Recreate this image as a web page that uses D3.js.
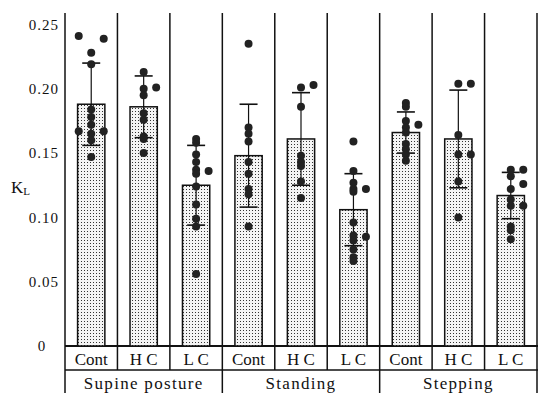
<!DOCTYPE html>
<html lang="en">
<head>
  <meta charset="utf-8">
  <title>K_L by posture</title>
  <script src="https://d3js.org/d3.v7.min.js"></script>
  <style>
    body { margin: 0; background: #fff; }
    svg { display: block; }
    text { font-family: "Liberation Serif", "DejaVu Serif", serif; fill: #111; }
  </style>
</head>
<body>
  <svg id="chart" width="538" height="393"></svg>

  <script>
    // groups and conditions
    const groups = ["Supine posture", "Standing", "Stepping"];
    const conditions = ["Cont", "H C", "L C"];

    // bar means and SD, [group][condition]
    const means = [
      [0.188, 0.186, 0.125],
      [0.148, 0.161, 0.106],
      [0.166, 0.161, 0.117]
    ];
    const sds = [
      [0.032, 0.024, 0.031],
      [0.040, 0.036, 0.028],
      [0.016, 0.038, 0.018]
    ];

    // individual points: [value, side] (side -1 left, 0 centre, 1 right)
    const supinePoints = [
      [[0.241, -1], [0.239, 1], [0.228, 0], [0.219, 0], [0.184, 0], [0.178, 0], [0.172, 0],
       [0.167, -1], [0.167, 1], [0.165, 0], [0.160, 0], [0.147, 0]],
      [[0.213, 0], [0.201, 1], [0.200, 0], [0.195, 0], [0.181, 0], [0.176, 0], [0.163, 0],
       [0.161, 0], [0.150, 0]],
      [[0.161, 0], [0.158, 0], [0.149, 0], [0.143, 0], [0.137, 0], [0.134, 0], [0.136, 1],
       [0.124, 0], [0.110, 0], [0.099, 0], [0.093, 0], [0.056, 0]]
    ];
    const standingPoints = [
      [[0.235, 0], [0.170, 0], [0.165, 0], [0.159, 0], [0.143, 0], [0.134, 0], [0.122, 0],
       [0.118, 0], [0.093, 0]],
      [[0.201, 0], [0.203, 1], [0.186, 0], [0.148, 0], [0.143, 0], [0.140, 0], [0.128, 0],
       [0.115, 0]],
      [[0.159, 0], [0.136, 0], [0.127, 0], [0.122, 0], [0.122, 1], [0.120, 0], [0.096, 0],
       [0.086, 0], [0.085, 1], [0.082, 0], [0.075, 0], [0.069, 0], [0.066, 0]]
    ];
    const steppingPoints = [
      [[0.189, 0], [0.186, 0], [0.175, 0], [0.172, 1], [0.170, 0], [0.166, 0], [0.157, 0],
       [0.153, 0], [0.149, 0], [0.144, 0]],
      [[0.204, 0], [0.204, 1], [0.164, 0], [0.149, 0], [0.149, 1], [0.128, 0], [0.100, 0]],
      [[0.137, 0], [0.137, 1], [0.132, 0], [0.126, 1], [0.122, 0], [0.114, 0], [0.109, 0],
       [0.109, 1], [0.093, 0], [0.090, 0], [0.083, 0]]
    ];
    const points = [supinePoints, standingPoints, steppingPoints];

    const yTicks = [0, 0.05, 0.10, 0.15, 0.20, 0.25];

    const svg = d3.select("#chart");
    const plotLeft = 65, plotRight = 537, plotTop = 13;
    const row1 = 370, plotBottom = 393;

    const x0 = d3.scaleBand().domain(groups).range([plotLeft, plotRight]);
    const x1 = d3.scaleBand().domain(conditions).range([0, x0.bandwidth()]);
    const y = d3.scaleLinear().domain([0, 0.25]).range([346, 24.5]);

    // stipple pattern for bars
    const pat = svg.append("defs").append("pattern")
        .attr("id", "stipple")
        .attr("patternUnits", "userSpaceOnUse")
        .attr("width", 3).attr("height", 3);
    pat.append("rect").attr("width", 3).attr("height", 3).attr("fill", "#f4f4f4");
    pat.append("rect").attr("width", 1).attr("height", 1).attr("fill", "#333");

    // flat list of cells
    const cells = [];
    groups.forEach((g, gi) => conditions.forEach((c, ci) => {
      cells.push({ g, c, mean: means[gi][ci], sd: sds[gi][ci], pts: points[gi][ci] });
    }));
    const cx = d => x0(d.g) + x1(d.c) + x1.bandwidth() / 2;
    const barW = x1.bandwidth() * 0.52;

    // column lines
    const colEdges = [plotLeft].concat(cells.map(d => x0(d.g) + x1(d.c) + x1.bandwidth()));
    svg.append("g").selectAll("line")
      .data(colEdges)
      .join("line")
        .attr("x1", d => d).attr("x2", d => d)
        .attr("y1", plotTop)
        .attr("y2", (d, i) => i % 3 === 0 ? plotBottom : row1)
        .attr("stroke", "#111").attr("stroke-width", 1.5);

    // baseline and row line
    svg.append("line")
        .attr("x1", plotLeft).attr("x2", 538).attr("y1", y(0)).attr("y2", y(0))
        .attr("stroke", "#111").attr("stroke-width", 2);
    svg.append("line")
        .attr("x1", plotLeft).attr("x2", 538).attr("y1", row1).attr("y2", row1)
        .attr("stroke", "#111").attr("stroke-width", 1.5);

    // bars
    svg.append("g").selectAll("rect")
      .data(cells)
      .join("rect")
        .attr("x", d => cx(d) - barW / 2)
        .attr("y", d => y(d.mean))
        .attr("width", barW)
        .attr("height", d => y(0) - y(d.mean))
        .attr("fill", "url(#stipple)")
        .attr("stroke", "#111").attr("stroke-width", 1.5);

    // error bars
    const err = svg.append("g").attr("stroke", "#111").attr("stroke-width", 1.2);
    err.selectAll(".stem")
      .data(cells)
      .join("line")
        .attr("class", "stem")
        .attr("x1", cx).attr("x2", cx)
        .attr("y1", d => y(d.mean - d.sd)).attr("y2", d => y(d.mean + d.sd));
    [-1, 1].forEach((s, k) => {
      err.selectAll(".cap" + k)
        .data(cells)
        .join("line")
          .attr("class", "cap" + k)
          .attr("x1", d => cx(d) - 9).attr("x2", d => cx(d) + 9)
          .attr("y1", d => y(d.mean + s * d.sd)).attr("y2", d => y(d.mean + s * d.sd))
          .attr("stroke-width", 1.6);
    });

    // dots
    svg.append("g").selectAll("g")
      .data(cells)
      .join("g")
      .selectAll("circle")
      .data(d => d.pts.map(p => ({ cx: cx(d) + p[1] * 12.5, v: p[0] })))
      .join("circle")
        .attr("cx", d => d.cx)
        .attr("cy", d => y(d.v))
        .attr("r", 4)
        .attr("fill", "#222");

    // y axis labels
    const axis = svg.append("g")
        .attr("transform", `translate(${plotLeft - 6},0)`)
        .call(d3.axisLeft(y).tickValues(yTicks).tickSize(0).tickPadding(0)
          .tickFormat(d => d === 0 ? "0" : d3.format(".2f")(d)));
    axis.select(".domain").remove();
    axis.selectAll("text")
        .attr("font-size", 15)
        .attr("letter-spacing", 1)
        .attr("fill", "#111");
    axis.selectAll(".tick").filter(d => d === 0).select("text")
        .attr("text-anchor", "middle").attr("x", -17);

    // y title K_L
    const title = svg.append("text")
        .attr("x", 11).attr("y", 193)
        .attr("font-size", 17);
    title.append("tspan").text("K");
    title.append("tspan").attr("font-size", 11).attr("dy", 2).text("L");

    // condition labels
    svg.append("g").selectAll("text")
      .data(cells)
      .join("text")
        .attr("x", cx).attr("y", 365)
        .attr("text-anchor", "middle")
        .attr("font-size", 17)
        .text(d => d.c);

    // group labels
    svg.append("g").selectAll("text")
      .data(groups)
      .join("text")
        .attr("x", d => x0(d) + x0.bandwidth() / 2).attr("y", 389)
        .attr("text-anchor", "middle")
        .attr("font-size", 17)
        .attr("letter-spacing", 1.3)
        .text(d => d);
  </script>
</body>
</html>
